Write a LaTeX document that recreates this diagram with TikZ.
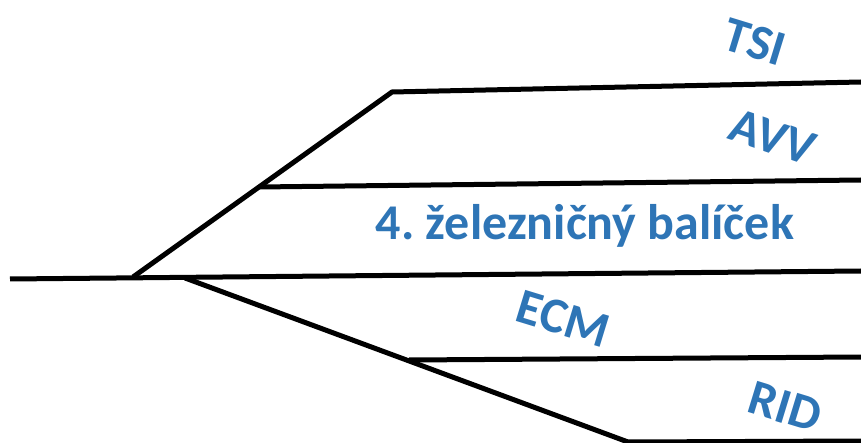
\documentclass[tikz,border=0pt]{standalone}
\usepackage{fontspec}
\setmainfont{Carlito}
\definecolor{labelblue}{HTML}{2E75B6}

\begin{document}
\frenchspacing
\begin{tikzpicture}[x=1pt, y=-1pt,
    track/.style={line width=5pt, line join=miter, line cap=butt},
    lbl/.style={text=labelblue, inner sep=0pt,
                font=\fontsize{50}{60}\selectfont\bfseries},
    tilted/.style={lbl, rotate=-17}
]
    \useasboundingbox (0,0) rectangle (861,443);
    \clip (0,0) rectangle (861,443);

    % ── Výhybky (junctions) ──
    \coordinate (west)     at (10,279);
    \coordinate (splitUp)  at (133,277);
    \coordinate (splitLow) at (185,278);
    \coordinate (topKnee)  at (392,92);
    \coordinate (midKnee)  at (259,187);
    \coordinate (lowKnee)  at (409,360);
    \coordinate (botKnee)  at (628,442);

    % ── Koľaje ──
    \draw[track] (west) -- (861,271);
    \draw[track] (splitUp) -- (topKnee) -- (861,82);
    \draw[track] (midKnee) -- (861,180);
    \draw[track] (splitLow) -- (botKnee) -- (861,441);
    \draw[track] (lowKnee) -- (861,357);

    % ── Popisy ──
    \node[tilted] (tsi) at (755,42) {TSI};
    \node[tilted, rotate=-2] (avv) at (773,137) {AVV};
    \node[lbl, anchor=base] (package) at (585,240) {4. železničný balíček};
    \node[tilted] (ecm) at (563,319) {ECM};
    \node[tilted] (rid) at (785,407) {RID};

\end{tikzpicture}
\end{document}
